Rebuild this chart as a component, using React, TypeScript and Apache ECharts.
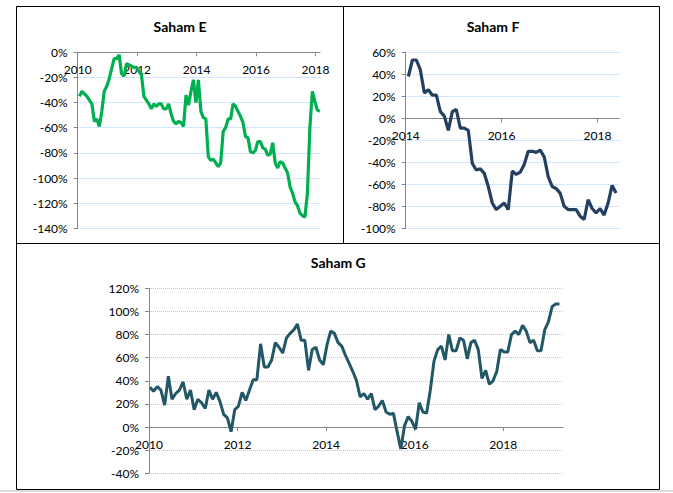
import React, { useEffect, useRef } from "react";
import * as echarts from "echarts";

// Monthly series (values in %), start positions in decimal years
const E_START = 2010.06;
const E_VALUES = [
  -35, -31, -33, -35, -38, -41, -55, -53, -59, -47,
  -31, -27, -21, -13, -5, -5, -2, -17, -19, -9,
  -10, -11, -12, -12, -15, -18, -35, -38, -41, -45,
  -41, -43, -41, -41, -45, -45, -41, -49, -55, -57,
  -55, -56, -59, -34, -42, -31, -22, -40, -22, -47,
  -52, -53, -83, -86, -85, -88, -91, -88, -63, -60,
  -53, -53, -41, -43, -47, -51, -56, -67, -68, -79,
  -80, -78, -71, -71, -76, -77, -82, -81, -72, -88,
  -92, -87, -88, -92, -96, -107, -112, -119, -122, -128,
  -130, -131, -112, -60, -31, -39, -46, -47,
];

const F_START = 2014.056;
const F_VALUES = [
  38, 53, 53, 44, 23, 26, 21, 21, 6, 2,
  -11, 6, 8, -9, -9, -11, -41, -47, -46, -50,
  -62, -77, -83, -80, -77, -83, -48, -51, -49, -42,
  -30, -30, -31, -29, -35, -53, -62, -64, -68, -80,
  -83, -83, -83, -89, -92, -74, -82, -86, -82, -88,
  -77, -61, -68,
];

const G_START = 2010.02;
const G_VALUES = [
  34.5, 31, 35, 32, 19, 44, 24, 29, 32, 39,
  24, 32, 15, 24, 21, 16, 32, 24, 30, 22,
  11, 8, -4, 15, 18, 30, 23, 32, 41, 41,
  72, 52, 52, 58, 73, 69, 64, 77, 81, 84,
  89, 75, 75, 49, 67, 69, 58, 54, 71, 83,
  81, 73, 70, 62, 55, 48, 40, 26, 29, 24,
  29, 15, 18, 23, 13, 11, 12, -4, -19, 1,
  9, 5, -2, 21, 13, 12, 32, 57, 67, 70,
  58, 80, 66, 66, 77, 75, 59, 73, 75, 67,
  42, 49, 37, 40, 48, 67, 65, 65, 80, 83,
  80, 88, 83, 73, 75, 66, 66, 84, 91, 104,
  106.5, 106.5,
];

const E_YEARS = [2010, 2012, 2014, 2016, 2018];
const F_YEARS = [2014, 2016, 2018];
const G_YEARS = [2010, 2012, 2014, 2016, 2018];

const TITLES = ["Saham E", "Saham F", "Saham G"];

const FONT = "Lato, 'Liberation Sans', sans-serif";
const AXIS_COLOR = "#868686";
const GRID_COLOR = "#A9CDF0";

type Panel = {
  left: number;
  top: number;
  width: number;
  height: number;
  xMin: number;
  xMax: number;
  yMin: number;
  yMax: number;
  years: number[];
};

const PANELS: Panel[] = [
  { left: 77.7, top: 52.3, width: 242.3, height: 176, xMin: 2010, xMax: 2018.15, yMin: -140, yMax: 0, years: E_YEARS },
  { left: 405.7, top: 52.3, width: 213.3, height: 176, xMin: 2014, xMax: 2018.45, yMin: -100, yMax: 60, years: F_YEARS },
  { left: 149, top: 288.3, width: 414, height: 185, xMin: 2010, xMax: 2019.35, yMin: -40, yMax: 120, years: G_YEARS },
];

function toPoints(start: number, values: number[]) {
  return values.map((v, i) => [start + i / 12, v]);
}

function xAxisCfg(gridIndex: number, p: Panel) {
  // place the horizontal axis line at the 0% level of its panel
  const zeroOffset = -(p.height * (0 - p.yMin)) / (p.yMax - p.yMin);
  return {
    type: "value",
    gridIndex,
    min: p.xMin,
    max: p.xMax,
    position: "bottom",
    offset: zeroOffset,
    axisLine: { show: true, onZero: false, lineStyle: { color: AXIS_COLOR, width: 1 } },
    axisTick: { show: true, customValues: p.years, length: 4, lineStyle: { color: AXIS_COLOR } },
    axisLabel: {
      customValues: p.years,
      formatter: (v: number) => String(v),
      margin: 11,
      fontSize: 12,
      fontFamily: FONT,
      color: "#000",
    },
    splitLine: { show: false },
  };
}

function yAxisCfg(gridIndex: number, p: Panel) {
  return {
    type: "value",
    gridIndex,
    min: p.yMin,
    max: p.yMax,
    interval: 20,
    axisLine: { show: true, onZero: false, lineStyle: { color: AXIS_COLOR, width: 1 } },
    axisTick: { show: true, length: 4, lineStyle: { color: AXIS_COLOR } },
    axisLabel: {
      formatter: (v: number) => `${v}%`,
      margin: 10,
      fontSize: 12,
      fontFamily: FONT,
      color: "#000",
    },
    splitLine: { show: true, lineStyle: { color: GRID_COLOR, type: "dotted", width: 1 } },
  };
}

export default function App() {
  const ref = useRef<HTMLDivElement>(null);

  useEffect(() => {
    document.body.style.margin = "0";
    if (!ref.current) return;
    const chart = echarts.init(ref.current, undefined, { renderer: "svg" });

    const titleText = (text: string, x: number, y: number) => ({
      type: "text",
      x,
      y,
      style: {
        text,
        font: `bold 14px ${FONT}`,
        fill: "#000",
        align: "center",
        verticalAlign: "middle",
      },
    });

    chart.setOption({
      animation: false,
      backgroundColor: "#ffffff",
      textStyle: { fontFamily: FONT },
      grid: PANELS.map((p) => ({ left: p.left, top: p.top, width: p.width, height: p.height })),
      xAxis: PANELS.map((p, i) => xAxisCfg(i, p)),
      yAxis: PANELS.map((p, i) => yAxisCfg(i, p)),
      series: [
        {
          type: "line",
          xAxisIndex: 0,
          yAxisIndex: 0,
          data: toPoints(E_START, E_VALUES),
          showSymbol: false,
          lineStyle: { color: "#00B050", width: 3.2 },
          itemStyle: { color: "#00B050" },
        },
        {
          type: "line",
          xAxisIndex: 1,
          yAxisIndex: 1,
          data: toPoints(F_START, F_VALUES),
          showSymbol: false,
          lineStyle: { color: "#243F60", width: 3.2 },
          itemStyle: { color: "#243F60" },
        },
        {
          type: "line",
          xAxisIndex: 2,
          yAxisIndex: 2,
          data: toPoints(G_START, G_VALUES),
          showSymbol: false,
          lineStyle: { color: "#215767", width: 3 },
          itemStyle: { color: "#215767" },
        },
      ],
      graphic: [
        {
          type: "rect",
          shape: { x: 16.5, y: 6.5, width: 643, height: 483 },
          style: { fill: "none", stroke: "#000", lineWidth: 1 },
        },
        {
          type: "line",
          shape: { x1: 343.5, y1: 6.5, x2: 343.5, y2: 243.5 },
          style: { stroke: "#000", lineWidth: 1 },
        },
        {
          type: "line",
          shape: { x1: 16.5, y1: 243.5, x2: 659.5, y2: 243.5 },
          style: { stroke: "#000", lineWidth: 1 },
        },
        {
          type: "line",
          shape: { x1: 0, y1: 491, x2: 673, y2: 491 },
          style: { stroke: "#d0d0d0", lineWidth: 1.5 },
        },
        titleText(TITLES[0], 180, 26.7),
        titleText(TITLES[1], 493, 26.7),
        titleText(TITLES[2], 338.3, 262.3),
      ],
    });

    return () => chart.dispose();
  }, []);

  return <div ref={ref} style={{ width: 673, height: 493 }} />;
}
